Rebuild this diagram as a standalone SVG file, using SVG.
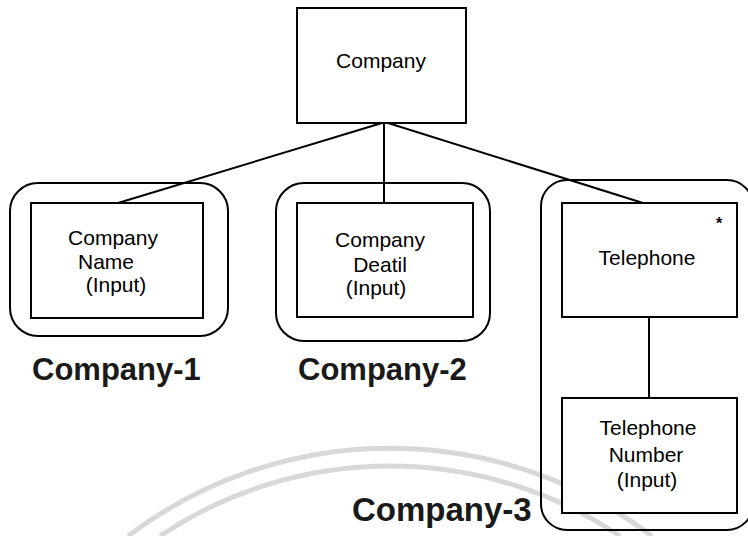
<svg xmlns="http://www.w3.org/2000/svg" width="748" height="536" viewBox="0 0 748 536">
<style>
.box{fill:#fff;stroke:#000;stroke-width:2}
.grp{fill:none;stroke:#000;stroke-width:2}
.t{font-family:"Liberation Sans",Arial,sans-serif;font-size:21px;fill:#000;text-anchor:middle}
.lbl{font-family:"Liberation Sans",Arial,sans-serif;font-weight:bold;fill:#1a1a1a}
.wm{fill:none;stroke:#d8d8d8;stroke-width:5}
</style>
<rect width="748" height="536" fill="#fff"/>
<g id="watermark">
<path class="wm" d="M 128 536 A 435 435 0 0 1 652 536"/>
<path class="wm" d="M 160 536 A 413 413 0 0 1 620 536"/>
</g>
<g id="connectors" stroke="#000" stroke-width="2" fill="none">
<line x1="382" y1="123" x2="118" y2="203"/>
<line x1="384" y1="123" x2="384" y2="203"/>
<line x1="388" y1="123" x2="643" y2="203"/>
<line x1="649" y1="317" x2="649" y2="398"/>
</g>
<g id="company">
<rect class="box" x="297" y="8" width="169" height="115"/>
<text class="t" x="381" y="68">Company</text>
</g>
<g id="company-1">
<rect class="grp" x="10" y="183" width="218" height="153" rx="28"/>
<text class="lbl" x="32" y="380" font-size="31">Company-1</text>
</g>
<g id="company-name">
<rect class="box" x="31" y="203" width="172" height="115"/>
<text class="t" x="113" y="245">Company</text>
<text class="t" x="106" y="269">Name</text>
<text class="t" x="116" y="292">(Input)</text>
</g>
<g id="company-2">
<rect class="grp" x="276" y="183" width="214" height="158" rx="28"/>
<text class="lbl" x="298" y="380" font-size="31">Company-2</text>
</g>
<g id="company-detail">
<rect class="box" x="297" y="203" width="176" height="114"/>
<text class="t" x="380" y="247">Company</text>
<text class="t" x="380" y="272">Deatil</text>
<text class="t" x="376" y="295">(Input)</text>
</g>
<g id="company-3">
<rect class="grp" x="541" y="180" width="212" height="350" rx="26"/>
<text class="lbl" x="352" y="521" font-size="33">Company-3</text>
</g>
<g id="telephone">
<rect class="box" x="562" y="203" width="175" height="114"/>
<text class="t" x="647" y="265">Telephone</text>
<text x="719" y="229" font-family="Liberation Sans,Arial,sans-serif" font-size="16" font-weight="bold" text-anchor="middle">*</text>
</g>
<g id="telephone-number">
<rect class="box" x="562" y="398" width="175" height="115"/>
<text class="t" x="648" y="435">Telephone</text>
<text class="t" x="646" y="462">Number</text>
<text class="t" x="647" y="487">(Input)</text>
</g>
</svg>
